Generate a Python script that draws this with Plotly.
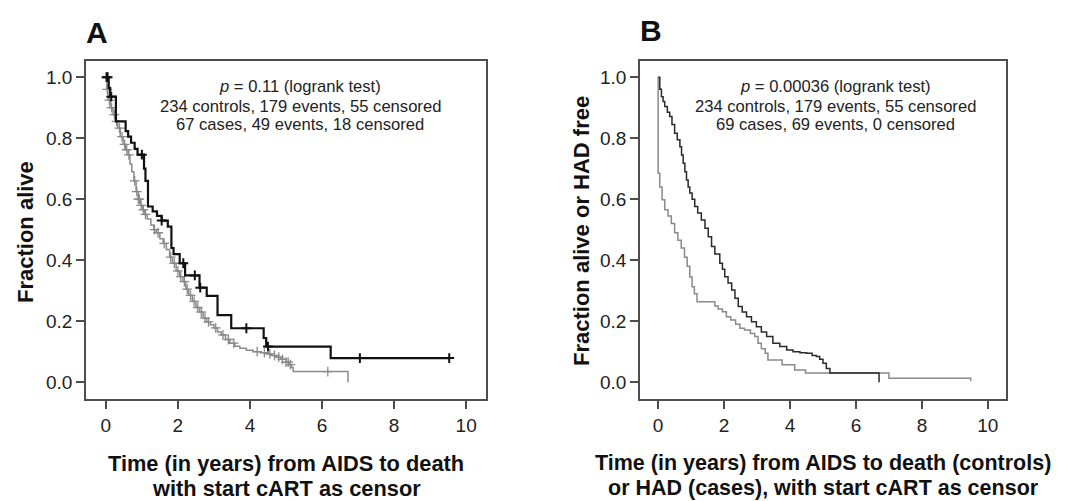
import plotly.graph_objects as go

# ---------------- data ----------------
# Panel A: cases (black) and controls (gray), Kaplan-Meier step points (time, survival)
a_cases_t = [0, 0.08, 0.12, 0.28, 0.55, 0.62, 0.7, 0.8, 0.88, 1.06, 1.1, 1.17, 1.3, 1.42,
             1.55, 1.72, 1.82, 1.88, 2.05, 2.2, 2.6, 2.8, 3.1, 3.48, 4.38, 4.45, 6.24, 9.53]
a_cases_s = [1.0, 0.965, 0.936, 0.855, 0.823, 0.805, 0.785, 0.765, 0.746, 0.70, 0.66, 0.576,
             0.56, 0.545, 0.53, 0.51, 0.44, 0.42, 0.39, 0.35, 0.31, 0.283, 0.22, 0.177,
             0.145, 0.117, 0.079, 0.079]
a_cases_cens_t = [0.02, 0.05, 0.15, 1.0, 1.55, 2.15, 2.47, 2.62, 3.9, 4.5, 7.05, 9.53]

a_ctrl_t = [0, 0.03, 0.06, 0.12, 0.2, 0.27, 0.33, 0.4, 0.48, 0.55, 0.62, 0.67, 0.72, 0.78,
            0.84, 0.9, 0.96, 1.02, 1.08, 1.15, 1.25, 1.33, 1.4, 1.5, 1.59, 1.68, 1.77, 1.85,
            1.95, 2.05, 2.14, 2.22, 2.3, 2.4, 2.5, 2.6, 2.7, 2.8, 2.9, 3.0, 3.1, 3.2, 3.32,
            3.44, 3.58, 3.72, 3.9, 4.09, 4.3, 4.46, 4.6, 4.73, 4.85, 5.0, 5.08, 5.15, 5.2, 6.72]
a_ctrl_s = [1.0, 0.96, 0.925, 0.9, 0.877, 0.855, 0.833, 0.805, 0.78, 0.762, 0.745, 0.715,
            0.69, 0.66, 0.625, 0.6, 0.58, 0.565, 0.55, 0.535, 0.515, 0.5, 0.49, 0.47, 0.455,
            0.435, 0.41, 0.39, 0.365, 0.346, 0.33, 0.305, 0.285, 0.265, 0.245, 0.23, 0.21,
            0.198, 0.188, 0.178, 0.165, 0.155, 0.14, 0.128, 0.118, 0.111, 0.105, 0.1, 0.097,
            0.093, 0.088, 0.082, 0.075, 0.066, 0.058, 0.048, 0.035, 0.0]
a_ctrl_cens_t = [0.04, 0.1, 0.16, 0.24, 0.3, 0.38, 0.45, 0.52, 0.58, 0.64, 0.8, 0.86, 0.9,
                 0.93, 0.98, 1.04, 1.1, 1.35, 1.45, 1.62, 1.8, 1.9, 2.0, 2.08, 2.18, 2.26,
                 2.35, 2.45, 2.55, 2.65, 2.75, 2.85, 3.05, 3.25, 3.4, 3.55, 4.2, 4.4, 4.55,
                 4.68, 4.8, 4.9, 5.0, 5.06, 5.12, 6.16]

# Panel B: controls (dark) and cases (gray)
b_ctrl_t = [0, 0.05, 0.1, 0.15, 0.2, 0.28, 0.35, 0.42, 0.5, 0.58, 0.66, 0.71, 0.76, 0.81,
            0.86, 0.91, 0.96, 1.03, 1.11, 1.2, 1.31, 1.42, 1.52, 1.62, 1.72, 1.87, 1.95,
            2.02, 2.12, 2.23, 2.33, 2.43, 2.55, 2.68, 2.83, 2.98, 3.13, 3.29, 3.48, 3.69,
            3.9, 4.09, 4.3, 4.5, 4.67, 4.8, 4.9, 5.0, 5.1, 5.21, 6.7]
b_ctrl_s = [1.0, 0.96, 0.936, 0.92, 0.904, 0.885, 0.871, 0.845, 0.816, 0.795, 0.772, 0.745,
            0.718, 0.69, 0.663, 0.64, 0.62, 0.60, 0.576, 0.555, 0.532, 0.505, 0.477, 0.445,
            0.42, 0.39, 0.37, 0.346, 0.325, 0.302, 0.275, 0.248, 0.23, 0.215, 0.198, 0.182,
            0.165, 0.15, 0.128, 0.117, 0.106, 0.1, 0.097, 0.095, 0.088, 0.084, 0.075, 0.062,
            0.045, 0.03, 0.0]

b_cases_t = [0, 0, 0.05, 0.12, 0.2, 0.3, 0.4, 0.5, 0.6, 0.7, 0.8, 0.88, 0.96, 1.03, 1.1,
             1.18, 1.72, 1.82, 1.95, 2.07, 2.2, 2.35, 2.48, 2.62, 2.8, 2.93, 3.03, 3.13,
             3.25, 3.33, 3.76, 4.14, 4.47, 7.0, 9.48, 9.48]
b_cases_s = [1.0, 0.685, 0.64, 0.598, 0.565, 0.545, 0.52, 0.49, 0.465, 0.44, 0.41, 0.38,
             0.345, 0.313, 0.29, 0.264, 0.25, 0.24, 0.231, 0.215, 0.204, 0.19, 0.177, 0.171,
             0.16, 0.15, 0.128, 0.11, 0.095, 0.073, 0.057, 0.04, 0.03, 0.013, 0.013, 0.003]

x_ticks = [0, 2, 4, 6, 8, 10]
y_ticks = [0.0, 0.2, 0.4, 0.6, 0.8, 1.0]

title_a = "A"
title_b = "B"
ytitle_a = "Fraction alive"
ytitle_b = "Fraction alive or HAD free"
xtitle_a = ["Time (in years) from AIDS to death", "with start cART as censor"]
xtitle_b = ["Time (in years) from AIDS to death (controls)", "or HAD (cases), with start cART as censor"]
info_a = ["<i>p</i> = 0.11 (logrank test)", "234 controls, 179 events, 55 censored",
          "67 cases, 49 events, 18 censored"]
info_b = ["<i>p</i> = 0.00036 (logrank test)", "234 controls, 179 events, 55 censored",
          "69 cases, 69 events, 0 censored"]


def surv_at(ts, ss, t):
    val = ss[0]
    for ti, si in zip(ts, ss):
        if ti <= t:
            val = si
        else:
            break
    return val


# ---------------- figure ----------------
W, H = 1070, 501
OFF = 8  # page body margin offset
FONT = "Liberation Sans, Arial, sans-serif"
BLACK = "#111111"
GRAY = "#8a8a8a"
FRAME = "#4d4d4d"


def px(x):
    return (x - OFF) / W


def py(y):
    return 1 - (y - OFF) / H


fig = go.Figure()

# Panel A
fig.add_trace(go.Scatter(x=a_ctrl_t, y=a_ctrl_s, mode="lines", line=dict(shape="hv", color=GRAY, width=1.5),
                         xaxis="x", yaxis="y", hoverinfo="skip"))
fig.add_trace(go.Scatter(x=a_ctrl_cens_t, y=[surv_at(a_ctrl_t, a_ctrl_s, t) for t in a_ctrl_cens_t],
                         mode="markers", marker=dict(symbol="cross-thin", size=7,
                                                     line=dict(color=GRAY, width=1.3)),
                         xaxis="x", yaxis="y", hoverinfo="skip"))
fig.add_trace(go.Scatter(x=a_cases_t, y=a_cases_s, mode="lines", line=dict(shape="hv", color=BLACK, width=2.2),
                         xaxis="x", yaxis="y", hoverinfo="skip"))
fig.add_trace(go.Scatter(x=a_cases_cens_t, y=[surv_at(a_cases_t, a_cases_s, t) for t in a_cases_cens_t],
                         mode="markers", marker=dict(symbol="cross-thin", size=7,
                                                     line=dict(color=BLACK, width=2)),
                         xaxis="x", yaxis="y", hoverinfo="skip"))

# Panel B
fig.add_trace(go.Scatter(x=b_cases_t, y=b_cases_s, mode="lines", line=dict(shape="hv", color=GRAY, width=1.5),
                         xaxis="x2", yaxis="y2", hoverinfo="skip"))
fig.add_trace(go.Scatter(x=b_ctrl_t, y=b_ctrl_s, mode="lines", line=dict(shape="hv", color="#2a2a2a", width=1.5),
                         xaxis="x2", yaxis="y2", hoverinfo="skip"))

axis_common = dict(showline=True, mirror=True, linecolor=FRAME, linewidth=1.6,
                   ticks="outside", ticklen=8, tickwidth=1.5, tickcolor=FRAME,
                   showgrid=False, zeroline=False,
                   tickfont=dict(family=FONT, size=19, color="#222222"))

ydom = [py(399), py(61)]
fig.update_layout(
    width=W, height=H,
    margin=dict(l=0, r=0, t=0, b=0),
    paper_bgcolor="white", plot_bgcolor="white",
    showlegend=False,
    xaxis=dict(domain=[px(86), px(486)], range=[-0.55, 10.55], tickvals=x_ticks, anchor="y", **axis_common),
    yaxis=dict(domain=ydom, range=[-0.055, 1.053], tickvals=y_ticks, tickformat=".1f", anchor="x", **axis_common),
    xaxis2=dict(domain=[px(640), px(1006)], range=[-0.55, 10.55], tickvals=x_ticks, anchor="y2", **axis_common),
    yaxis2=dict(domain=ydom, range=[-0.055, 1.053], tickvals=y_ticks, tickformat=".1f", anchor="x2", **axis_common),
)

ann = []


def add_text(text, x, y, size, angle=0, color="#111"):
    ann.append(dict(text=text, x=px(x), y=py(y), xref="paper", yref="paper",
                    xanchor="center", yanchor="middle", showarrow=False, textangle=angle,
                    font=dict(family=FONT, size=size, color=color)))


# panel letters
add_text(f"<b>{title_a}</b>", 97, 32, 30)
add_text(f"<b>{title_b}</b>", 651, 31, 30)
# y titles
add_text(f"<b>{ytitle_a}</b>", 25, 232, 22, angle=-90)
add_text(f"<b>{ytitle_b}</b>", 581, 231, 22, angle=-90)
# x titles
for i, line in enumerate(xtitle_a):
    add_text(f"<b>{line}</b>", 286, 463 + 25 * i, 21.8)
for i, line in enumerate(xtitle_b):
    add_text(f"<b>{line}</b>", 823, 463 + 25 * i, 21.5)
# info text
for i, line in enumerate(info_a):
    add_text(line, 300, 87 + 19 * i, 16.6, color="#222")
for i, line in enumerate(info_b):
    add_text(line, 835, 87 + 19 * i, 16.6, color="#222")

fig.update_layout(annotations=ann)

fig.write_html("out.html")
